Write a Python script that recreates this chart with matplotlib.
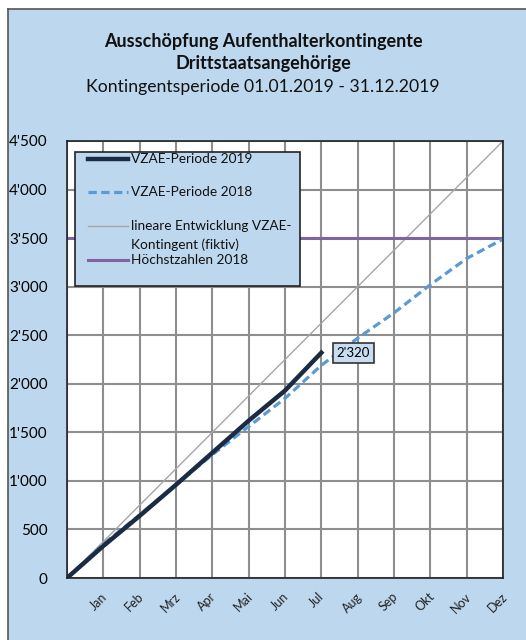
import numpy as np
import matplotlib.pyplot as plt
import matplotlib.transforms as mtransforms
from matplotlib.lines import Line2D
from matplotlib.patches import Rectangle
from matplotlib.ticker import FuncFormatter, MultipleLocator

# Daten
monate = ["", "Jan", "Feb", "Mrz", "Apr", "Mai", "Jun", "Jul", "Aug", "Sep", "Okt", "Nov", "Dez"]
vzae_2019 = [0, 330, 640, 960, 1290, 1620, 1930, 2320]
vzae_2018 = [0, 350, 650, 960, 1270, 1560, 1850, 2190, 2470, 2730, 3020, 3290, 3490]
linear = [0, 375, 750, 1125, 1500, 1875, 2250, 2625, 3000, 3375, 3750, 4125, 4500]
hoechst_2018 = [3500] * 13

bg = "#BDD7EE"
c2019, c2018, clin, choech = "#1B2B44", "#5B9BD5", "#A6A6A6", "#8064A2"
cgrid = "#8E8E8E"
dash = (0, (2.6, 1.4))
plt.rcParams['font.family'] = ['Lato', 'DejaVu Sans']

fig = plt.figure(figsize=(5.26, 6.4), dpi=100, facecolor="white")
W, H = 526, 640


def fx(px):
    return px / W


def fy(py):
    return 1 - py / H


# Rahmen (Hintergrund als eigene Achse ganz unten)
bgax = fig.add_axes([fx(8), 0, 1, fy(9)], zorder=-10)
bgax.set_facecolor(bg)
bgax.set_xticks([])
bgax.set_yticks([])
for s in ["right", "bottom"]:
    bgax.spines[s].set_visible(False)
for s in ["left", "top"]:
    bgax.spines[s].set_color("#555555")
    bgax.spines[s].set_linewidth(1.2)

fig.text(0.5, fy(42), "Ausschöpfung Aufenthalterkontingente", ha="center", va="center",
         fontsize=13, fontweight="bold", color="#111111")
fig.text(0.5, fy(64), "Drittstaatsangehörige", ha="center", va="center",
         fontsize=13, fontweight="bold", color="#111111")
fig.text(0.5, fy(87), "Kontingentsperiode 01.01.2019 - 31.12.2019", ha="center", va="center",
         fontsize=12.7, color="#111111")

ax = fig.add_axes([fx(67), fy(578), 436 / W, 437 / H], zorder=1)
ax.set_facecolor("white")
x = np.arange(len(monate))

ax.set_xlim(0, 12)
ax.set_ylim(0, 4500)
ax.yaxis.set_major_locator(MultipleLocator(500))
ax.yaxis.set_major_formatter(FuncFormatter(lambda v, p: f"{int(v):,}".replace(",", "'")))
ax.set_xticks(x)

# Gitter
ax.grid(True, color=cgrid, linewidth=1.5, zorder=2)
ax.set_axisbelow(False)

ax.plot(x, linear, color=clin, lw=1.0, zorder=3)
ax.plot(x, hoechst_2018, color=choech, lw=2.2, zorder=3)
ax.plot(x, vzae_2018, color=c2018, lw=2.3, ls=dash, zorder=4)
ax.plot(x[:len(vzae_2019)], vzae_2019, color=c2019, lw=3.2, zorder=5)

ax.annotate("2'320", xy=(len(vzae_2019) - 1, vzae_2019[-1]), xytext=(11, 0),
            textcoords="offset points", ha="left", va="center", fontsize=9.5,
            bbox=dict(boxstyle="square,pad=0.3", facecolor="#C9DDF2", edgecolor="#333333", lw=1.2),
            zorder=6)

ax.set_xticklabels(monate, rotation=45, ha="center", va="top", fontsize=9, color="#222222")
ax.tick_params(axis="x", length=0, pad=9)
ax.tick_params(axis="y", length=0, pad=14, labelsize=11)
shift = mtransforms.ScaledTranslation(-5 / 100, 0, fig.dpi_scale_trans)
for lab in ax.get_xticklabels():
    lab.set_transform(lab.get_transform() + shift)
for s in ax.spines.values():
    s.set_color("#222222")
    s.set_linewidth(1.2)
    s.set_zorder(7)

# Legende (von Hand, wie im Original)
ax.add_patch(Rectangle((fx(75), fy(286)), fx(225), 134 / H, transform=fig.transFigure,
                       facecolor=bg, edgecolor="#222222", linewidth=1.2, zorder=10))
eintraege = [
    (159, c2019, 3.2, "-", "VZAE-Periode 2019"),
    (192, c2018, 2.3, dash, "VZAE-Periode 2018"),
    (226, clin, 1.0, "-", "lineare Entwicklung VZAE-"),
    (260, choech, 2.2, "-", "Höchstzahlen 2018"),
]
for py, col, lw, ls, txt in eintraege:
    ax.add_line(Line2D([fx(88), fx(128)], [fy(py), fy(py)], transform=fig.transFigure,
                       color=col, lw=lw, ls=ls, zorder=11))
    ax.text(fx(131), fy(py), txt, transform=fig.transFigure, ha="left", va="center",
            fontsize=9.8, color="#111111", zorder=12)
ax.text(fx(131), fy(245), "Kontingent (fiktiv)", transform=fig.transFigure, ha="left",
        va="center", fontsize=9.8, color="#111111", zorder=12)

fig.savefig("out.png", dpi=100)
